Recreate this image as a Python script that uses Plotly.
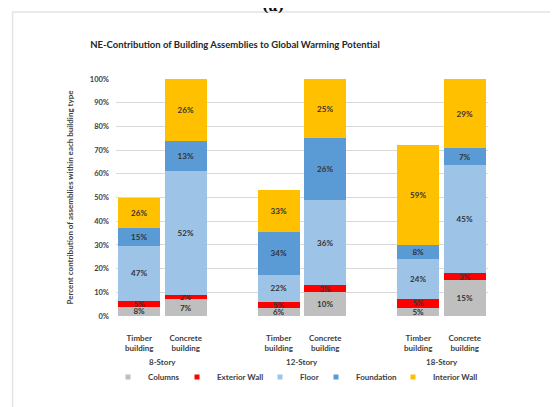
import plotly.graph_objects as go

# Data
stories = ["8-Story", "12-Story", "18-Story"]
building_types = ["Timber<br>building", "Concrete<br>building"]
# bar height (percent of the concrete building) for each building
bar_total = [50, 100, 53, 100, 72, 100]
# share of each assembly within each building (labels)
columns = [8, 7, 6, 10, 5, 15]
exterior_wall = [5, 2, 5, 3, 5, 3]
floor = [47, 52, 22, 36, 24, 45]
foundation = [15, 13, 34, 26, 8, 7]
interior_wall = [26, 26, 33, 25, 59, 29]

assemblies = ["Columns", "Exterior Wall", "Floor", "Foundation", "Interior Wall"]
shares = [columns, exterior_wall, floor, foundation, interior_wall]
colors = ["#BFBFBF", "#FF0000", "#9DC3E6", "#5B9BD5", "#FFC000"]
legend_widths = [24, 38, 11, 32, 50]  # px per legend entry, to match spacing

FONT = "Lato, Open Sans, sans-serif"
TXT = "#333333"

# positions: two bars per story, one empty slot between stories
xpos = [g * 3 + j for g in range(len(stories)) for j in range(len(building_types))]
ticktext = building_types * len(stories)

# scale the within-building shares to the bar height
sums = [sum(s[i] for s in shares) for i in range(len(bar_total))]

fig = go.Figure()
for name, vals, col, lw in zip(assemblies, shares, colors, legend_widths):
    heights = [v / sums[i] * bar_total[i] for i, v in enumerate(vals)]
    fig.add_trace(go.Bar(
        x=xpos, y=heights, name=name, marker_color=col,
        marker_line_width=0, width=0.9,
        text=vals, texttemplate="%{text}%",
        textposition="inside", insidetextanchor="middle", textangle=0,
        textfont=dict(family=FONT, size=8, color=TXT, weight="bold"),
        showlegend=False, legendgroup=name, hoverinfo="name+text"))
    # small square legend marker
    fig.add_trace(go.Scatter(
        x=[None], y=[None], mode="markers", name=name, legendgroup=name,
        legendwidth=lw,
        marker=dict(symbol="square", size=5, color=col)))

# the page puts the figure 8px in from the top-left corner
fig.update_layout(
    barmode="stack",
    width=558, height=407,
    margin=dict(l=108, r=78, t=71, b=99, autoexpand=False),
    paper_bgcolor="white", plot_bgcolor="white",
    font=dict(family=FONT, size=8, color="#404040"),
    uniformtext=dict(minsize=8, mode="show"),
    title=dict(text="NE-Contribution of Building Assemblies to Global Warming Potential",
               font=dict(family=FONT, size=9.5, color="#262626", weight="bold"),
               xref="paper", x=0.32, xanchor="center",
               yref="container", y=1 - 37 / 407, yanchor="middle"),
    legend=dict(orientation="h", x=-0.0215, xanchor="left", y=-0.257, yanchor="middle",
                bgcolor="rgba(0,0,0,0)", entrywidthmode="pixels",
                font=dict(family=FONT, size=8, color="#404040", weight="bold"),
                itemclick=False, itemdoubleclick=False),
)

fig.update_xaxes(
    range=[-0.5, 7.5], tickmode="array", tickvals=xpos, ticktext=ticktext,
    showgrid=False, zeroline=False, showline=False, ticks="",
    ticklabelstandoff=16, automargin=False,
    tickfont=dict(family=FONT, size=8, color="#404040", weight="bold"))

fig.update_yaxes(
    range=[0, 100], dtick=10, ticksuffix="%",
    showgrid=True, gridcolor="#D9D9D9", gridwidth=1, zeroline=False,
    showline=False, ticks="", ticklabelstandoff=6, automargin=False,
    tickfont=dict(family=FONT, size=7.5, color="#404040", weight="bold"),
    title=dict(text="Percent contribution of assemblies within each building type",
               font=dict(family=FONT, size=8, color="#404040", weight="bold"),
               standoff=14))

# story group labels
for g, s in enumerate(stories):
    fig.add_annotation(x=g * 3 + 0.5, xref="x", y=-0.194, yref="paper",
                       text=s, showarrow=False, yanchor="middle",
                       font=dict(family=FONT, size=8, color="#404040", weight="bold"))

# panel label, cut off at the top of the image
fig.add_annotation(x=0.422, xref="paper", y=1.308, yref="paper", text="(a)",
                   showarrow=False, yanchor="middle",
                   font=dict(family="DejaVu Serif", size=14, color="#111111", weight="bold"))

# chart area border
fig.add_shape(type="rect", xref="paper", yref="paper",
              x0=-0.278, x1=1.4, y0=-0.5, y1=1.283,
              line=dict(color="#E3E3E3", width=1.5), layer="below")

fig.write_html("out.html")
